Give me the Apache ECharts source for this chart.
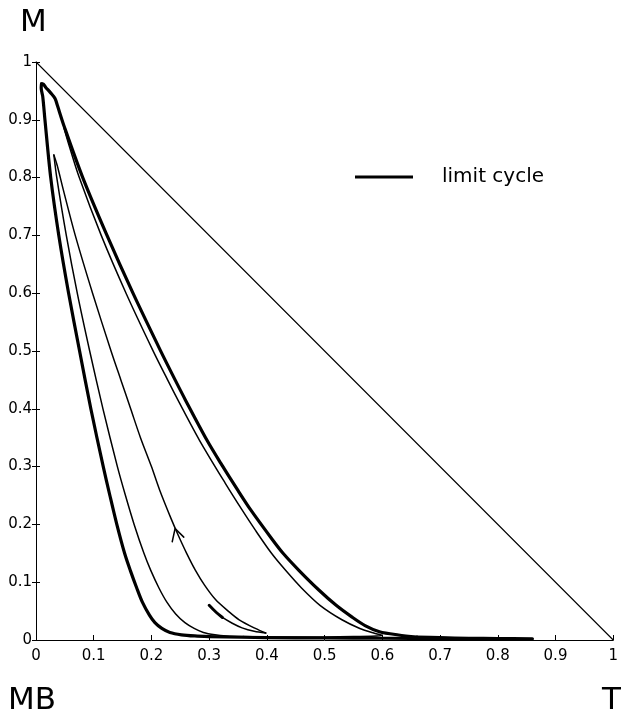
<!DOCTYPE html>
<html>
<head>
<meta charset="utf-8">
<script src="https://cdn.jsdelivr.net/npm/echarts@6/dist/echarts.min.js"></script>
<style>
html,body{margin:0;padding:0;background:#fff;}
#chart{width:621px;height:713px;}
</style>
</head>
<body>
<div id="chart"></div>
<script>
// Axis tick labels
const xTicks = [0,0.1,0.2,0.3,0.4,0.5,0.6,0.7,0.8,0.9,1];
const yTicks = [0,0.1,0.2,0.3,0.4,0.5,0.6,0.7,0.8,0.9,1];

// Simplex edge (T + M = 1)
const diagX = [0, 1];
const diagY = [1, 0];

// Limit cycle (thick): rising branch, from the foot up to the peak
const cycleUpX = [0.66,0.628,0.595,0.570,0.547,0.520,0.490,0.455,0.428,0.410,0.372,0.349,0.320,0.296,0.259,0.241,0.215,0.168,0.123,0.081,0.049,0.037,0.033,0.025,0.017,0.012,0.0095];
const cycleUpY = [0.005,0.0087,0.0144,0.025,0.040,0.060,0.0865,0.121,0.150,0.173,0.225,0.260,0.306,0.346,0.415,0.450,0.502,0.600,0.700,0.800,0.888,0.925,0.937,0.947,0.956,0.962,0.962];
// Limit cycle: falling branch, from the peak down to the foot
const cycleDownX = [0.0095,0.0090,0.0117,0.0155,0.0255,0.0395,0.0565,0.0755,0.095,0.1165,0.128,0.140,0.1535,0.1635,0.1745,0.1845,0.1965,0.206,0.218,0.232,0.252,0.275,0.300];
const cycleDownY = [0.962,0.955,0.940,0.900,0.800,0.700,0.600,0.500,0.400,0.300,0.250,0.200,0.150,0.120,0.090,0.065,0.043,0.030,0.020,0.013,0.009,0.007,0.006];
// Limit cycle: run along the MB = 0 edge
const cycleBaseX = [0.300,0.400,0.500,0.600,0.700,0.800,0.860,0.800,0.750,0.700,0.660];
const cycleBaseY = [0.006,0.004,0.0035,0.003,0.0025,0.002,0.002,0.0025,0.003,0.004,0.005];

// Transient trajectory (thin): initial piece
const trajStartX = [0.300,0.312,0.323,0.340,0.357,0.378,0.398];
const trajStartY = [0.060,0.048,0.039,0.029,0.021,0.015,0.012];
// Rising branch with the arrow
const trajUpX = [0.398,0.380,0.352,0.333,0.311,0.292,0.276,0.261,0.247,0.234,0.214,0.200,0.181,0.164,0.147,0.130,0.098,0.068,0.047,0.037,0.031];
const trajUpY = [0.012,0.020,0.035,0.050,0.070,0.095,0.121,0.150,0.180,0.210,0.260,0.300,0.350,0.400,0.450,0.500,0.600,0.700,0.780,0.820,0.839];
// Falling branch
const trajDownX = [0.031,0.036,0.0525,0.0715,0.093,0.116,0.141,0.155,0.170,0.187,0.199,0.213,0.227,0.242,0.258,0.274,0.290,0.310,0.330,0.360];
const trajDownY = [0.839,0.800,0.700,0.600,0.500,0.400,0.300,0.250,0.200,0.150,0.120,0.090,0.065,0.045,0.030,0.020,0.013,0.009,0.007,0.006];
// Along the MB = 0 edge
const trajBaseX = [0.360,0.450,0.550,0.590,0.600];
const trajBaseY = [0.006,0.005,0.006,0.007,0.008];
// Rising branch joining the limit cycle
const trajRightX = [0.600,0.585,0.561,0.530,0.492,0.460,0.432,0.408,0.380,0.357,0.328,0.283,0.246,0.228,0.202,0.156,0.113,0.075,0.056,0.048];
const trajRightY = [0.008,0.012,0.020,0.035,0.060,0.090,0.121,0.150,0.190,0.225,0.271,0.346,0.415,0.450,0.502,0.600,0.700,0.800,0.860,0.888];

// Initial point (drawn heavier)
const startX = [0.300,0.312,0.323];
const startY = [0.060,0.048,0.039];

// Direction arrow head
const arrowX = [0.236,0.241,0.256];
const arrowY = [0.170,0.193,0.178];

const zip = (xs, ys) => xs.map((x, i) => [x, ys[i]]);
const FONT = 'DejaVu Sans';
const THICK = 3.2, THIN = 1.5;

function curve(name, xs, ys, width, smooth) {
  return {name: name, type: 'line', data: zip(xs, ys), symbol: 'none', smooth: smooth,
          lineStyle: {color: '#000', width: width, cap: 'round', join: 'round'},
          itemStyle: {color: '#000'}, silent: true};
}

const chart = echarts.init(document.getElementById('chart'), null, {renderer: 'canvas'});
chart.setOption({
  animation: false,
  backgroundColor: '#fff',
  grid: {left: 36, top: 62, width: 580, height: 578, containLabel: false},
  legend: {
    data: ['limit cycle'],
    left: 355, top: 167,
    itemWidth: 58, itemHeight: 20,
    padding: 0,
    icon: 'path://M0,0 L58,0 L58,3 L0,3 Z',
    textStyle: {fontFamily: FONT, fontSize: 20, color: '#000', padding: [0,0,0,24]}
  },
  xAxis: {
    type: 'value', min: 0, max: 1, interval: 0.1,
    axisLine: {lineStyle: {color: '#000', width: 1}},
    axisTick: {inside: true, length: 5, lineStyle: {color: '#000'}},
    axisLabel: {fontFamily: FONT, fontSize: 15, color: '#000', margin: 9,
      formatter: v => String(xTicks.find(t => Math.abs(t - v) < 1e-9) ?? v)},
    splitLine: {show: false}
  },
  yAxis: [{
    type: 'value', min: 0, max: 1, interval: 0.1,
    axisLine: {show: true, lineStyle: {color: '#000', width: 1}},
    axisTick: {show: true, inside: false, length: 4, lineStyle: {color: '#000'}},
    axisLabel: {fontFamily: FONT, fontSize: 15, color: '#000', margin: 4,
      formatter: v => String(yTicks.find(t => Math.abs(t - v) < 1e-9) ?? v)},
    splitLine: {show: false}
  }, {
    type: 'value', min: 0, max: 1, interval: 0.1, position: 'left',
    axisLine: {show: false},
    axisTick: {show: true, inside: true, length: 4, lineStyle: {color: '#000'}},
    axisLabel: {show: false},
    splitLine: {show: false}
  }],
  graphic: [
    {type: 'text', left: 20, top: 7, style: {text: 'M', font: '31px "DejaVu Sans"', fill: '#000'}},
    {type: 'text', left: 8, top: 685, style: {text: 'MB', font: '31px "DejaVu Sans"', fill: '#000'}},
    {type: 'text', left: 602, top: 685, style: {text: 'T', font: '31px "DejaVu Sans"', fill: '#000'}}
  ],
  series: [
    curve('edge', diagX, diagY, 1.1, false),
    curve('trajectory', trajStartX, trajStartY, THIN, 0.3),
    curve('trajectory', trajUpX, trajUpY, THIN, 0.3),
    curve('trajectory', trajDownX, trajDownY, THIN, 0.3),
    curve('trajectory', trajBaseX, trajBaseY, THIN, 0.3),
    curve('trajectory', trajRightX, trajRightY, THIN, 0.3),
    curve('start', startX, startY, 3, 0.3),
    curve('arrow', arrowX, arrowY, THIN, false),
    curve('limit cycle', cycleUpX, cycleUpY, THICK, 0.3),
    curve('limit cycle', cycleDownX, cycleDownY, THICK, 0.3),
    curve('limit cycle', cycleBaseX, cycleBaseY, THICK, 0.3)
  ]
});
</script>
</body>
</html>
